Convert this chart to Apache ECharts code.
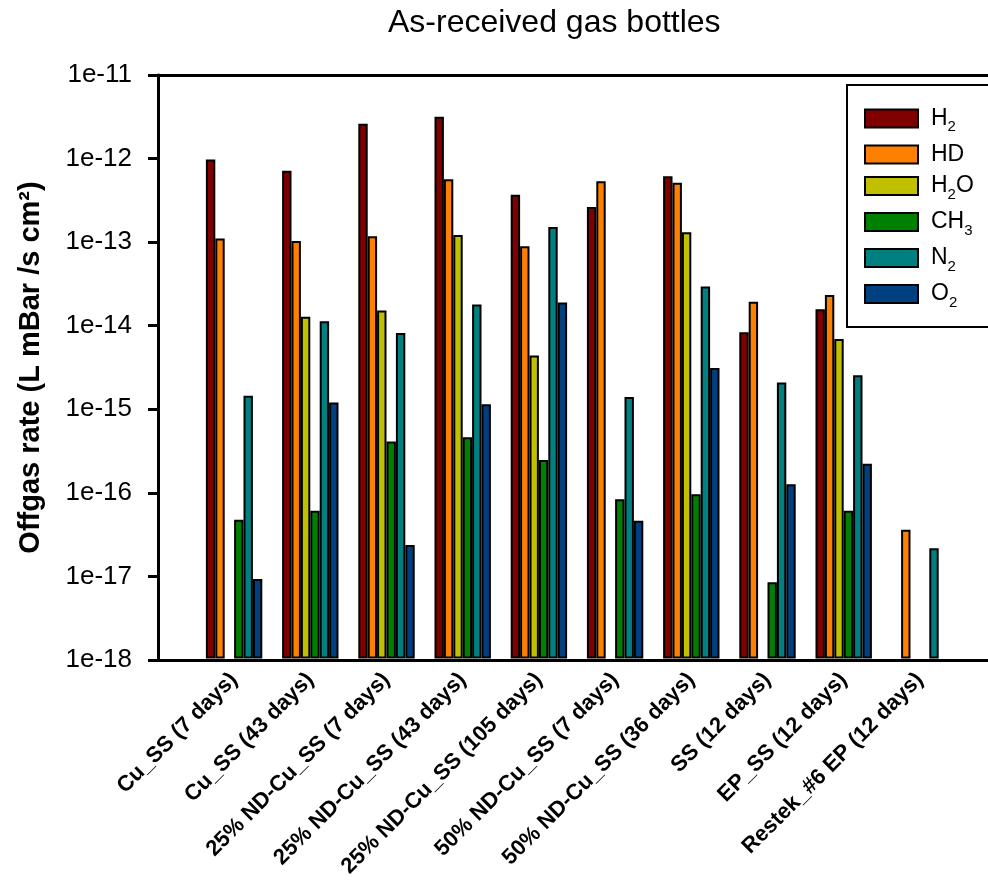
<!DOCTYPE html>
<html>
<head>
<meta charset="utf-8">
<script src="https://cdn.jsdelivr.net/npm/echarts@6/dist/echarts.min.js"></script>
<style>
  html, body { margin: 0; padding: 0; background: #fff; }
  #chart { width: 988px; height: 880px; }
</style>
</head>
<body>
<div id="chart"></div>
<script>
// categories (bottles) and offgas rates per gas
var categories = ['Cu_SS (7 days)', 'Cu_SS (43 days)', '25% ND-Cu_SS (7 days)', '25% ND-Cu_SS (43 days)',
    '25% ND-Cu_SS (105 days)', '50% ND-Cu_SS (7 days)', '50% ND-Cu_SS (36 days)', 'SS (12 days)',
    'EP_SS (12 days)', 'Restek_#6 EP (12 days)'];
var gasNames = ['H2', 'HD', 'H2O', 'CH3', 'N2', 'O2'];
var h2  = [9.7e-13, 7.1e-13, 2.6e-12, 3.15e-12, 3.65e-13, 2.6e-13, 6.1e-13, 8.2e-15, 1.55e-14, null];
var hd  = [1.09e-13, 1.02e-13, 1.16e-13, 5.6e-13, 8.8e-14, 5.3e-13, 5.1e-13, 1.9e-14, 2.3e-14, 3.5e-17];
var h2o = [null, 1.26e-14, 1.49e-14, 1.2e-13, 4.3e-15, null, 1.3e-13, null, 6.8e-15, null];
var ch3 = [4.6e-17, 5.9e-17, 4.0e-16, 4.5e-16, 2.4e-16, 8.1e-17, 9.3e-17, 8.2e-18, 5.9e-17, null];
var n2  = [1.42e-15, 1.11e-14, 8.0e-15, 1.77e-14, 1.5e-13, 1.37e-15, 2.9e-14, 2.05e-15, 2.5e-15, 2.1e-17];
var o2  = [9.0e-18, 1.18e-15, 2.3e-17, 1.12e-15, 1.87e-14, 4.5e-17, 3.05e-15, 1.23e-16, 2.17e-16, null];
var yMin = 1e-18, yMax = 1e-11;   // axis runs 1e-18 .. 1e-11, one tick per decade

var gasData = [h2, hd, h2o, ch3, n2, o2];
var gasColors = ['#800000', '#FF8000', '#C0C000', '#008000', '#008080', '#004080'];
// legend labels with subscripts
var gasLabels = {
    'H2': '{g|}{n|H}{s|2}',
    'HD': '{g|}{n|HD}',
    'H2O': '{g|}{n|H}{s|2}{n|O}',
    'CH3': '{g|}{n|CH}{s|3}',
    'N2': '{g|}{n|N}{s|2}',
    'O2': '{g|}{n|O}{s|2}'
};

var font = 'Liberation Sans, Arial, sans-serif';
var decades = Math.round(Math.log10(yMax / yMin));
var minExp = Math.round(Math.log10(yMin));

// bars are measured in decades above 1e-18, so they grow from the bottom of the axis
function toDecades(v) {
    return v == null ? null : Math.log10(v / yMin);
}

var chart = echarts.init(document.getElementById('chart'));

var series = gasNames.map(function (name, i) {
    return {
        name: name,
        type: 'bar',
        xAxisIndex: 0,
        yAxisIndex: 0,
        barWidth: 9.4,
        barGap: '0%',
        data: gasData[i].map(toDecades),
        itemStyle: { color: gasColors[i], borderColor: '#000', borderWidth: 2 }
    };
});

option = {
    backgroundColor: '#fff',
    animation: false,
    title: {
        text: 'As-received gas bottles',
        left: 383,
        top: 2,
        textStyle: { fontFamily: font, fontSize: 32, fontWeight: 'normal', color: '#000' }
    },
    legend: {
        data: gasNames,
        orient: 'vertical',
        left: 847,
        top: 85,
        padding: [22, 60, 17, 17],
        itemGap: 8.5,
        itemWidth: 53,
        itemHeight: 18,
        icon: 'rect',
        backgroundColor: '#fff',
        borderColor: '#000',
        borderWidth: 2,
        formatter: function (name) { return gasLabels[name]; },
        textStyle: {
            fontFamily: font,
            color: '#000',
            rich: {
                g: { width: 8 },
                n: { fontFamily: font, fontSize: 23, lineHeight: 32, color: '#000' },
                s: { fontFamily: font, fontSize: 15, lineHeight: 14, verticalAlign: 'bottom', color: '#000' }
            }
        }
    },
    grid: [
        { left: 196, width: 762, top: 75, height: 585 },
        { left: 158, right: 0, top: 75, height: 585 }
    ],
    xAxis: [
        {
            type: 'category',
            gridIndex: 0,
            data: categories,
            axisLine: { show: false },
            axisTick: { show: false },
            axisLabel: {
                interval: 0,
                rotate: 45,
                margin: 18,
                fontFamily: font,
                fontSize: 22,
                fontWeight: 'bold',
                color: '#000'
            }
        },
        {
            type: 'value', gridIndex: 1, position: 'bottom', min: 0, max: 1,
            axisLine: { show: true, lineStyle: { color: '#000', width: 3 } },
            axisTick: { show: false }, axisLabel: { show: false }, splitLine: { show: false }
        },
        {
            type: 'value', gridIndex: 1, position: 'top', min: 0, max: 1,
            axisLine: { show: true, lineStyle: { color: '#000', width: 3 } },
            axisTick: { show: false }, axisLabel: { show: false }, splitLine: { show: false }
        }
    ],
    yAxis: [
        {
            type: 'value',
            gridIndex: 0,
            min: 0,
            max: decades,
            show: false,
            splitLine: { show: false }
        },
        {
            type: 'value',
            gridIndex: 1,
            min: 0,
            max: decades,
            interval: 1,
            name: 'Offgas rate (L mBar /s cm²)',
            nameLocation: 'middle',
            nameGap: 113,
            nameTextStyle: { fontFamily: font, fontSize: 29, fontWeight: 'bold', color: '#000' },
            axisLine: { show: true, lineStyle: { color: '#000', width: 3 } },
            axisTick: { show: true, length: 10, lineStyle: { color: '#000', width: 3 } },
            splitLine: { show: false },
            axisLabel: {
                margin: 26,
                fontFamily: font,
                fontSize: 26,
                color: '#000',
                formatter: function (v) { return '1e' + (v + minExp); }
            }
        }
    ],
    series: series
};

chart.setOption(option);
</script>
</body>
</html>
